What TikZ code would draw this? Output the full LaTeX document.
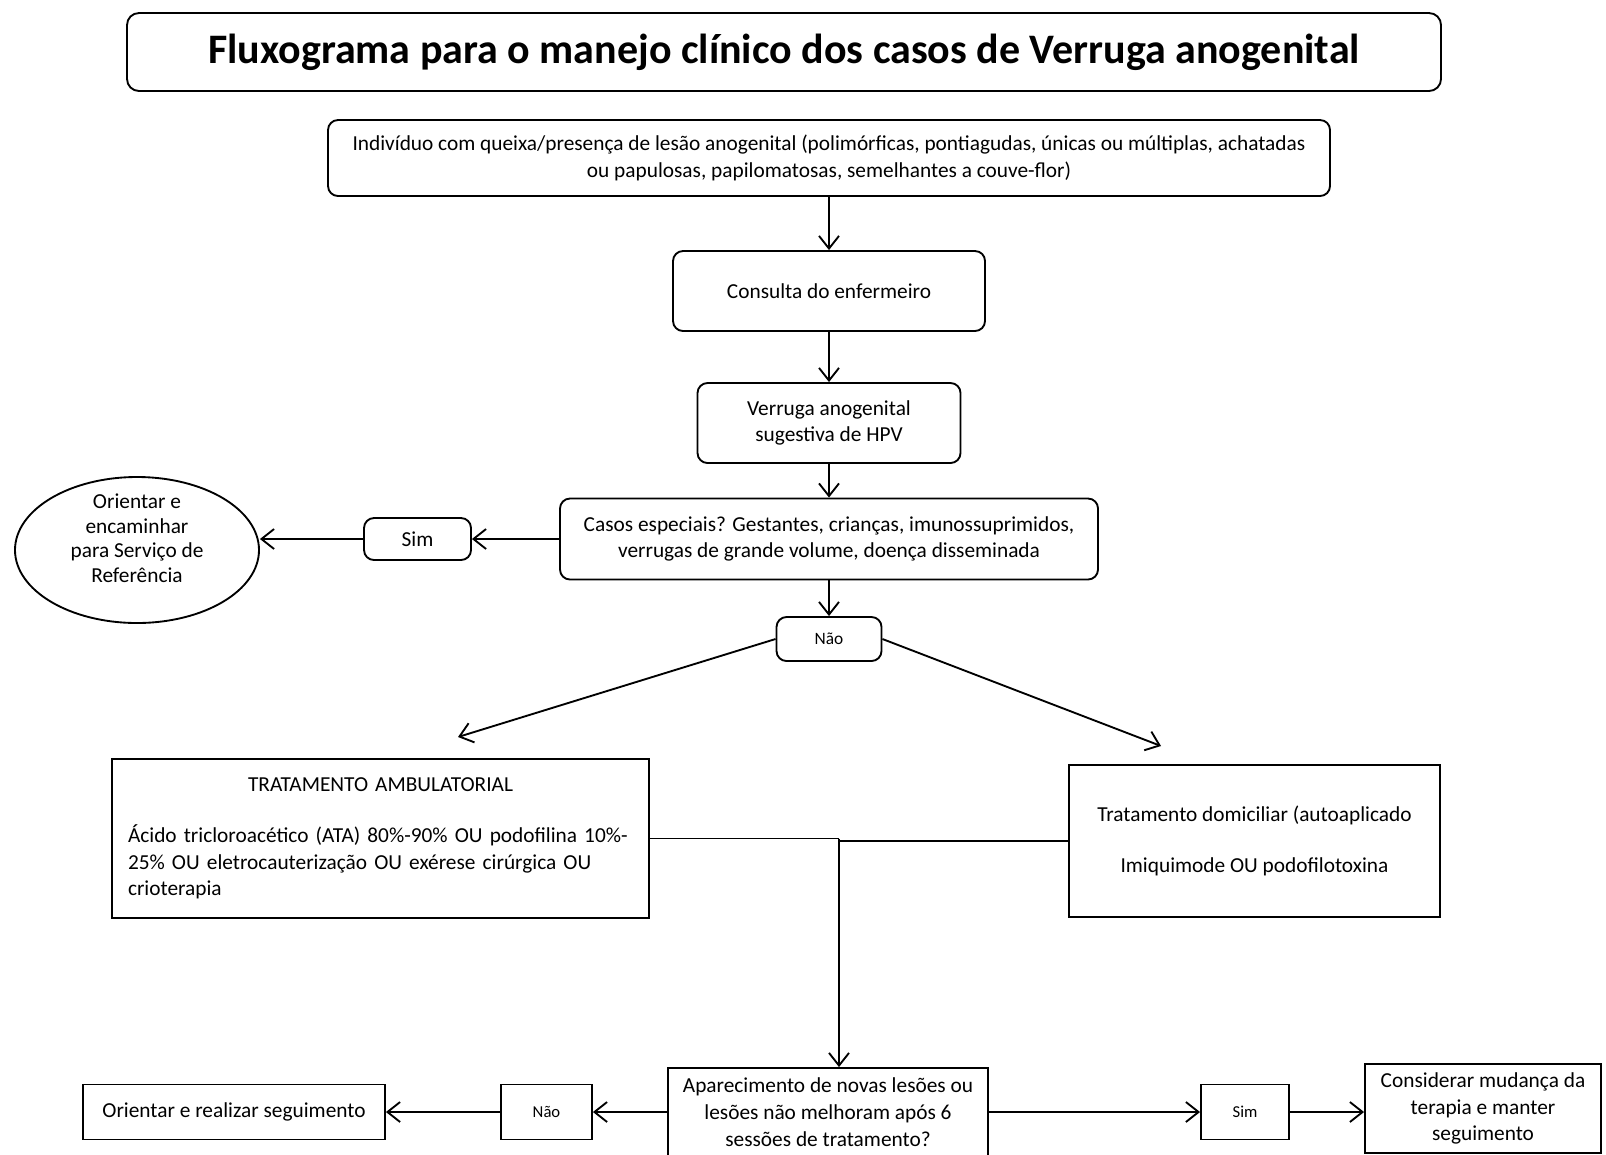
\documentclass[tikz,border=0pt]{standalone}
\usepackage{fontspec}
\setmainfont{Carlito}
\usetikzlibrary{arrows.meta,shapes.geometric}

\tikzset{every picture/.style={line width=1.4pt}}
\tikzset{
  rbox/.style={draw, rounded corners=7.5pt, align=center, inner sep=0pt, font=\fontsize{16}{20}\selectfont},
  sbox/.style={draw, align=center, inner sep=0pt, font=\fontsize{16}{20}\selectfont},
  smalltext/.style={font=\fontsize{12.5}{15}\selectfont},
  seta/.style={-{Straight Barb[length=9.5pt,width=15pt]}},
}
\newcommand{\ambline}[1]{\makebox[378.75pt][l]{#1}}

\begin{document}
\begin{tikzpicture}[x=0.75pt,y=0.75pt,yscale=-1,xscale=1]
\useasboundingbox (0,0) rectangle (1606,1154);

%Shape: Rounded Rect [title]
\node [rbox, rounded corners=9pt, minimum width=985.5pt, minimum height=58.5pt, font=\fontsize{31.5}{36}\selectfont\bfseries] (titulo) at (784,52) {Fluxograma para o manejo clínico dos casos de Verruga anogenital};

%Shape: Rounded Rect [column]
\node [rbox, minimum width=751.5pt, minimum height=57pt] (queixa) at (829,158) {Indivíduo com queixa/presença de lesão anogenital (polimórficas, pontiagudas, únicas ou múltiplas, achatadas\\ou papulosas, papilomatosas, semelhantes a couve-flor)};
\node [rbox, minimum width=234pt, minimum height=60pt] (consulta) at (829,291) {Consulta do enfermeiro};
\node [rbox, minimum width=197.25pt, minimum height=60pt] (verruga) at (829,423) {Verruga anogenital\\sugestiva de HPV};
\node [rbox, minimum width=403.5pt, minimum height=60.75pt] (especiais) at (829,539) {Casos especiais? Gestantes, crianças, imunossuprimidos,\\verrugas de grande volume, doença disseminada};
\node [rbox, minimum width=78.75pt, minimum height=33pt, font=\fontsize{13}{15}\selectfont] (naoA) at (829,639) {Não};

%Shape: Left branch
\node [rbox, minimum width=80.25pt, minimum height=31.5pt] (simA) at (417.5,539) {Sim};
\node [draw, ellipse, inner sep=0pt, minimum width=183pt, minimum height=109.5pt, font=\fontsize{16}{18.5}\selectfont] (orientar) at (137,550) {\raisebox{7pt}[\height][\depth]{\begin{tabular}{@{}c@{}}Orientar e\\encaminhar\\para Serviço de\\Referência\end{tabular}}};

%Shape: Rectangle [treatments]
\node [sbox, minimum width=402.75pt, minimum height=119.25pt, text width=378.75pt] (ambulatorial) at (380.5,838.5) {TRATAMENTO AMBULATORIAL\\[18pt]\ambline{Ácido tricloroacético (ATA) 80\%-90\% OU podofilina 10\%-}\\\ambline{25\% OU eletrocauterização OU exérese cirúrgica OU}\\\ambline{crioterapia}};
\node [sbox, minimum width=278.25pt, minimum height=114pt] (domiciliar) at (1254.5,841) {Tratamento domiciliar (autoaplicado\\[18pt]Imiquimode OU podofilotoxina};

%Shape: Rectangle [bottom row]
\node [sbox, minimum width=240pt, minimum height=66pt] (novas) at (828,1112) {Aparecimento de novas lesões ou\\lesões não melhoram após 6\\sessões de tratamento?};
\node [sbox, minimum width=68.25pt, minimum height=41.25pt, smalltext] (naoB) at (546.5,1112) {Não};
\node [sbox, minimum width=226.5pt, minimum height=41.25pt] (seguimento) at (234,1112) {Orientar e realizar seguimento};
\node [sbox, minimum width=66pt, minimum height=41.25pt, smalltext] (simB) at (1245,1112) {Sim};
\node [sbox, minimum width=177pt, minimum height=66.75pt] (mudanca) at (1483,1108.5) {Considerar mudança da\\terapia e manter\\seguimento};

\coordinate (ambIn) at (458,737);
\coordinate (domIn) at (1161,746);
\coordinate (juncao) at (839,838.5);

%Straight Lines
\draw [seta] (queixa) -- (consulta);
\draw [seta] (consulta) -- (verruga);
\draw [seta] (verruga) -- (especiais);
\draw [seta] (especiais) -- (naoA);
\draw [seta] (especiais.west |- simA) -- (simA.east);
\draw [seta] (simA.west) -- (simA.west -| orientar.east);
\draw [seta] (naoA.west) -- (ambIn);
\draw [seta] (naoA.east) -- (domIn);
\draw (ambulatorial.east) -- (juncao);
\draw (domiciliar.west) -- (domiciliar.west -| juncao);
\draw [seta] (juncao) -- (juncao |- novas.north);
\draw [seta] (novas.west) -- (naoB.east);
\draw [seta] (naoB.west) -- (seguimento.east);
\draw [seta] (novas.east) -- (simB.west);
\draw [seta] (simB.east) -- (simB.east -| mudanca.west);

\end{tikzpicture}
\end{document}
